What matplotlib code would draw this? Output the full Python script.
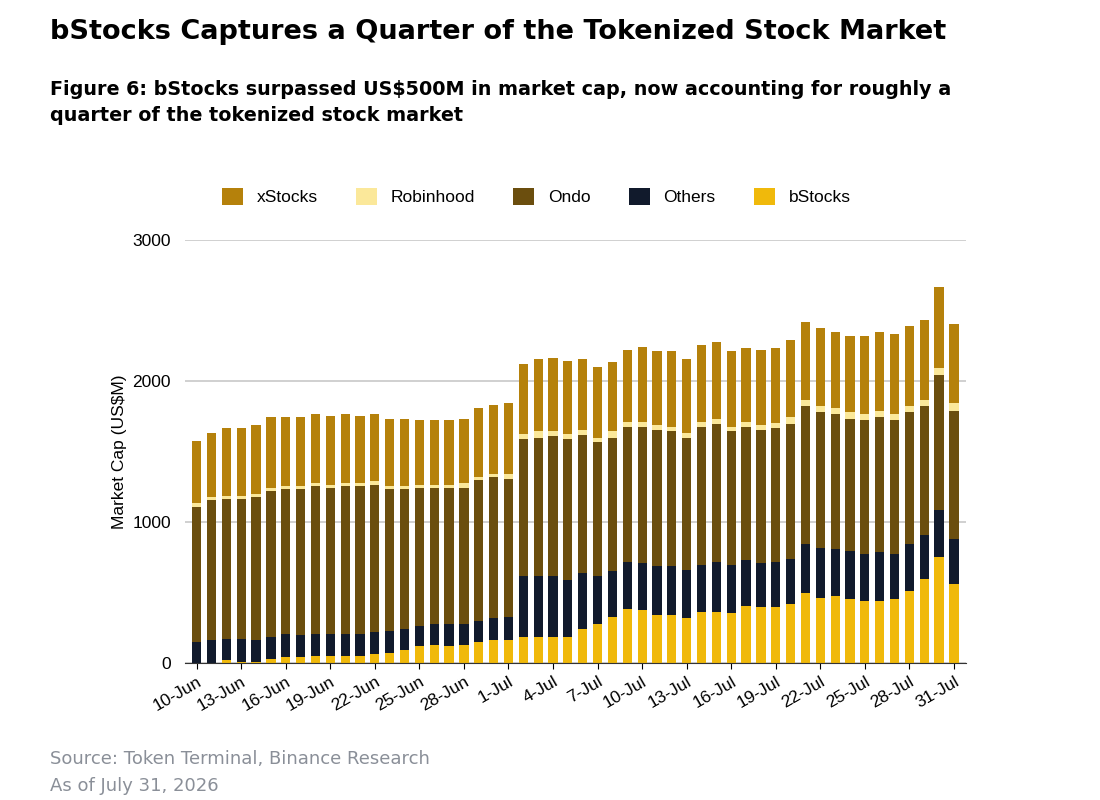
import matplotlib.pyplot as plt
import numpy as np
import datetime as dt

# stacked boundaries (US$M): tops of bStocks, Others, Ondo, Robinhood, xStocks
b_top = [0, 0, 21, 7, 7, 28, 43, 43, 50, 50, 50, 50, 64, 73, 97, 121, 128, 121, 128, 151,
         163, 163, 184, 184, 184, 184, 241, 277, 329, 383, 376, 340, 340, 319, 362, 362,
         355, 407, 397, 397, 418, 496, 461, 475, 454, 440, 440, 454, 511, 596, 752, 563]
oth_top = [151, 163, 175, 175, 163, 187, 206, 199, 206, 206, 206, 206, 220, 229, 241, 262, 279, 279, 279, 298,
           319, 329, 617, 617, 617, 589, 641, 617, 652, 719, 709, 688, 688, 662, 695, 719,
           695, 730, 709, 719, 740, 844, 818, 808, 797, 773, 787, 773, 844, 908, 1085, 877]
ondo_top = [1109, 1156, 1165, 1165, 1180, 1222, 1232, 1232, 1258, 1243, 1258, 1258, 1265, 1232, 1232, 1243, 1243, 1243, 1243, 1298,
            1319, 1307, 1589, 1596, 1610, 1589, 1619, 1567, 1596, 1674, 1674, 1652, 1645, 1596, 1674, 1697,
            1645, 1674, 1652, 1667, 1697, 1823, 1780, 1766, 1730, 1723, 1745, 1723, 1780, 1823, 2043, 1787]
rob_top = [1137, 1180, 1187, 1187, 1201, 1243, 1255, 1255, 1279, 1265, 1279, 1279, 1291, 1255, 1255, 1265, 1265, 1265, 1279, 1319,
           1343, 1343, 1624, 1645, 1645, 1624, 1652, 1596, 1645, 1709, 1709, 1688, 1674, 1631, 1709, 1730,
           1674, 1709, 1688, 1702, 1745, 1865, 1823, 1808, 1780, 1766, 1787, 1766, 1823, 1865, 2092, 1844]
total = [1572, 1629, 1664, 1664, 1686, 1745, 1745, 1745, 1764, 1752, 1764, 1752, 1764, 1730, 1730, 1723, 1723, 1723, 1730, 1809,
         1830, 1842, 2118, 2154, 2161, 2142, 2154, 2097, 2132, 2217, 2239, 2210, 2210, 2154, 2253, 2274,
         2210, 2232, 2217, 2232, 2288, 2421, 2374, 2350, 2317, 2317, 2345, 2331, 2388, 2430, 2664, 2404]

start = dt.date(2026, 6, 10)
dates = [start + dt.timedelta(days=i) for i in range(len(total))]
labels = [d.strftime('%-d-%b') for d in dates]

levels = np.array([np.zeros(len(total)), b_top, oth_top, ondo_top, rob_top, total], dtype=float)
segs = np.diff(levels, axis=0)
names = ['bStocks', 'Others', 'Ondo', 'Robinhood', 'xStocks']
colors = ['#F0B90B', '#111A2C', '#6B4E0E', '#FBE89A', '#B5810B']

plt.rcParams['font.family'] = ['Liberation Sans', 'DejaVu Sans']
fig = plt.figure(figsize=(11, 8), dpi=100)
ax = fig.add_axes([0.168, 0.171, 0.71, 0.529])

x = np.arange(len(total))
handles = {}
for i in range(5):
    h = ax.bar(x, segs[i], bottom=levels[i], width=0.62, color=colors[i], label=names[i])
    handles[names[i]] = h

ax.set_ylim(0, 3000)
ax.set_xlim(-0.8, len(total) - 0.2)
ax.set_yticks([0, 1000, 2000, 3000])
ax.tick_params(axis='y', length=0, labelsize=12.5, pad=10)
ax.yaxis.grid(True, color='#c8c8c8', linewidth=1.2)
ax.set_axisbelow(True)
for s in ['top', 'right', 'left']:
    ax.spines[s].set_visible(False)
ax.spines['bottom'].set_color('#333333')
ax.set_xticks(x[::3])
ax.set_xticklabels(labels[::3], rotation=30, ha='right', rotation_mode='anchor', fontsize=12.5)
ax.tick_params(axis='x', length=4)
ax.set_ylabel('Market Cap (US$M)', fontsize=12.5)

order = ['xStocks', 'Robinhood', 'Ondo', 'Others', 'bStocks']
ax.legend([handles[n] for n in order], order, loc='lower center', bbox_to_anchor=(0.45, 1.045),
          ncol=5, frameon=False, fontsize=12.5, handlelength=1.2, handleheight=1.2, columnspacing=2.2)

fig.text(0.045, 0.96, 'bStocks Captures a Quarter of the Tokenized Stock Market',
         fontsize=19.5, fontweight='bold', va='center', family='DejaVu Sans')
fig.text(0.045, 0.872, 'Figure 6: bStocks surpassed US$500M in market cap, now accounting for roughly a\nquarter of the tokenized stock market',
         fontsize=13.8, fontweight='bold', va='center', linespacing=1.45, family='DejaVu Sans')
fig.text(0.045, 0.051, 'Source: Token Terminal, Binance Research', fontsize=13, color='#8a8f98', va='center',
         family='DejaVu Sans')
fig.text(0.045, 0.017, 'As of July 31, 2026', fontsize=13, color='#8a8f98', va='center', family='DejaVu Sans')

fig.savefig('out.png', dpi=100)
